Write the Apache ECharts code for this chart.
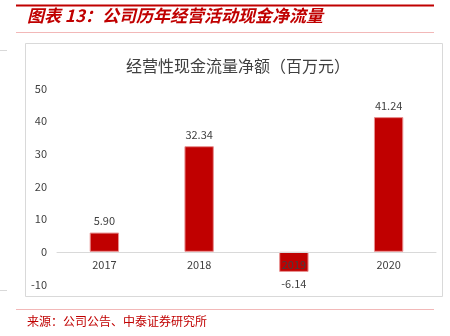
<!DOCTYPE html>
<html>
<head>
<meta charset="utf-8">
<script src="https://cdn.jsdelivr.net/npm/echarts@6/dist/echarts.min.js"></script>
<style>
html,body{margin:0;padding:0;background:#fff;}
#c{width:450px;height:336px;}
</style>
</head>
<body>
<div id="c"></div>
<script>
var categories = ['2017', '2018', '2019', '2020'];
var values = [5.90, 32.34, -6.14, 41.24];
var yTicks = [-10, 0, 10, 20, 30, 40, 50];
var figureTitle = '图表 13：公司历年经营活动现金净流量';
var chartTitle = '经营性现金流量净额（百万元）';
var sourceText = '来源：公司公告、中泰证券研究所';

var chart = echarts.init(document.getElementById('c'), null, {renderer: 'canvas'});
var font = '"Noto Sans CJK SC", "Noto Sans", sans-serif';
var red = '#C00000';

var option = {
  animation: false,
  backgroundColor: '#fff',
  title: {
    text: chartTitle,
    left: 233,
    textAlign: 'center',
    top: 53,
    textStyle: {fontFamily: font, fontSize: 16, fontWeight: 'normal', color: '#404040'}
  },
  grid: {left: 57, right: 14, top: 88.5, bottom: 51.5, containLabel: false},
  xAxis: {
    type: 'category',
    data: categories,
    offset: -32.67,
    axisLine: {show: true, onZero: false, lineStyle: {color: '#D9D9D9', width: 1}},
    axisTick: {show: false},
    axisLabel: {margin: 7, fontFamily: font, fontSize: 11, color: '#404040'},
    z: 10
  },
  yAxis: {
    type: 'value',
    min: yTicks[0],
    max: yTicks[yTicks.length - 1],
    interval: 10,
    axisLine: {show: false},
    axisTick: {show: false},
    splitLine: {show: false},
    axisLabel: {margin: 10, fontFamily: font, fontSize: 11, color: '#404040'}
  },
  series: [{
    type: 'bar',
    barWidth: '31%',
    data: values.map(function (v) {
      return {
        value: v,
        label: {position: v < 0 ? 'bottom' : 'top'}
      };
    }),
    itemStyle: {color: red, borderColor: '#E89090', borderWidth: 1},
    label: {
      show: true,
      distance: 6,
      fontFamily: font,
      fontSize: 11,
      color: '#404040',
      formatter: function (p) { return p.value.toFixed(2); }
    }
  }],
  graphic: [
    {type: 'line', shape: {x1: 16, y1: 5.5, x2: 434, y2: 5.5}, style: {stroke: red, lineWidth: 2}},
    {type: 'text', left: 27, top: 7, style: {text: figureTitle, font: 'italic bold 17px ' + font, fill: red}},
    {type: 'line', shape: {x1: 16, y1: 32.5, x2: 434, y2: 32.5}, style: {stroke: '#F2B8B8', lineWidth: 1}},
    {type: 'rect', shape: {x: 25.5, y: 43.5, width: 417, height: 253}, style: {fill: 'none', stroke: '#D9D9D9', lineWidth: 1}},
    {type: 'line', shape: {x1: 0, y1: 50.5, x2: 7, y2: 50.5}, style: {stroke: '#D9D9D9', lineWidth: 1}},
    {type: 'line', shape: {x1: 0, y1: 290.5, x2: 7, y2: 290.5}, style: {stroke: '#D9D9D9', lineWidth: 1}},
    {type: 'line', shape: {x1: 16, y1: 309.5, x2: 434, y2: 309.5}, style: {stroke: '#F2B8B8', lineWidth: 1}},
    {type: 'text', left: 27, top: 315, style: {text: sourceText, font: '12px ' + font, fill: red}}
  ]
};
chart.setOption(option);
</script>
</body>
</html>
